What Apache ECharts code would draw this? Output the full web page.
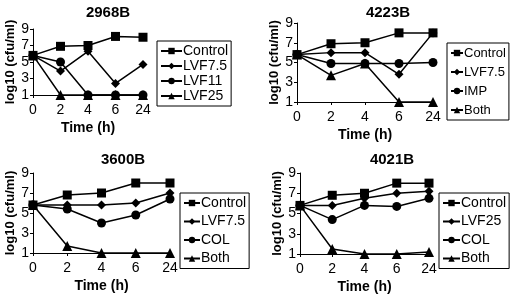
<!DOCTYPE html>
<html>
<head>
<meta charset="utf-8">
<script src="https://cdn.jsdelivr.net/npm/echarts@6/dist/echarts.min.js"></script>
<style>
  html, body { margin: 0; padding: 0; background: #fff; }
  #chart { width: 520px; height: 296px; }
</style>
</head>
<body>
<div id="chart"></div>
<script>
// time points (h)
const times = ['0', '2', '4', '6', '24'];
const yMin = 1, yMax = 9, yStep = 2;

// 2968B
const s2968Names = ['Control', 'LVF7.5', 'LVF11', 'LVF25'];
const s2968Control = [5.8, 6.9, 7.0, 8.1, 8.0];
const s2968Lvf75 = [5.8, 3.9, 6.3, 2.4, 4.7];
const s2968Lvf11 = [5.8, 5.0, 1, 1, 1];
const s2968Lvf25 = [5.8, 1, 1, 1, 1];

// 4223B
const s4223Names = ['Control', 'LVF7.5', 'IMP', 'Both'];
const s4223Control = [5.8, 6.9, 7.0, 8.0, 8.0];
const s4223Lvf75 = [5.8, 6.0, 6.0, 3.8, 8.0];
const s4223Imp = [5.8, 4.9, 4.9, 4.9, 5.0];
const s4223Both = [5.8, 3.7, 4.9, 1, 1];

// 3600B
const s3600Names = ['Control', 'LVF7.5', 'COL', 'Both'];
const s3600Control = [5.8, 6.8, 7.0, 8.0, 8.0];
const s3600Lvf75 = [5.8, 5.8, 5.8, 6.0, 7.0];
const s3600Col = [5.8, 5.4, 4.0, 4.8, 6.4];
const s3600Both = [5.8, 1.7, 1, 1, 1];

// 4021B
const s4021Names = ['Control', 'LVF25', 'COL', 'Both'];
const s4021Control = [5.8, 6.8, 7.0, 8.0, 8.0];
const s4021Lvf25 = [5.8, 5.8, 6.5, 7.0, 7.2];
const s4021Col = [5.8, 4.4, 5.8, 5.7, 6.5];
const s4021Both = [5.8, 1.5, 1, 1, 1.2];

const symbols = ['rect', 'diamond', 'circle', 'triangle'];
const symSizes = [9, 9, 9, 10];

// layout of the four panels
const panels = [
  {title: '2968B', names: s2968Names, data: [s2968Control, s2968Lvf75, s2968Lvf11, s2968Lvf25],
   grid: {left: 33, top: 29, width: 110, height: 66}, tx: 103, ty: 0,
   leg: {left: 157, top: 41, gap: 1, iw: 21, fs: 14}},
  {title: '4223B', names: s4223Names, data: [s4223Control, s4223Lvf75, s4223Imp, s4223Both],
   grid: {left: 297, top: 23, width: 136, height: 79}, tx: 383, ty: 0,
   leg: {left: 447, top: 43, gap: 5, iw: 12, fs: 13}},
  {title: '3600B', names: s3600Names, data: [s3600Control, s3600Lvf75, s3600Col, s3600Both],
   grid: {left: 33, top: 173, width: 137, height: 80}, tx: 118, ty: 147,
   leg: {left: 180, top: 193, gap: 4.5, iw: 16, fs: 14}},
  {title: '4021B', names: s4021Names, data: [s4021Control, s4021Lvf25, s4021Col, s4021Both],
   grid: {left: 300, top: 173, width: 129, height: 81}, tx: 387, ty: 147,
   leg: {left: 439, top: 193, gap: 4.5, iw: 17, fs: 14}}
];

const font = 'Liberation Sans, Arial, sans-serif';
const option = {
  backgroundColor: '#fff',
  animation: false,
  title: [], grid: [], xAxis: [], yAxis: [], legend: [], series: []
};

panels.forEach((p, k) => {
  option.title.push({
    text: p.title, left: p.tx, top: p.ty, textAlign: 'center',
    textStyle: {fontFamily: font, fontSize: 15, fontWeight: 'bold', color: '#000'}
  });
  option.grid.push(p.grid);
  option.xAxis.push({
    type: 'category', gridIndex: k, data: times, boundaryGap: false,
    name: 'Time (h)', nameLocation: 'middle', nameGap: 26,
    nameTextStyle: {fontFamily: font, fontSize: 14, fontWeight: 'bold', color: '#000'},
    axisLine: {lineStyle: {color: '#000', width: 1}},
    axisTick: {show: true, length: 3, lineStyle: {color: '#000'}},
    axisLabel: {fontFamily: font, fontSize: 14, color: '#000', margin: 8},
    splitLine: {show: false}
  });
  option.yAxis.push({
    type: 'value', gridIndex: k, min: yMin, max: yMax, interval: yStep,
    name: 'log10 (cfu/ml)', nameLocation: 'middle', nameGap: 15,
    nameTextStyle: {fontFamily: font, fontSize: 13, fontWeight: 'bold', color: '#000'},
    axisLine: {show: true, lineStyle: {color: '#000', width: 1}},
    axisTick: {show: true, length: 3, lineStyle: {color: '#000'}},
    axisLabel: {fontFamily: font, fontSize: 14, color: '#000', margin: 4},
    splitLine: {show: false}
  });
  const legendNames = [];
  p.names.forEach((n, i) => {
    const full = p.title + ':' + n;
    legendNames.push(full);
    option.series.push({
      name: full, type: 'line', xAxisIndex: k, yAxisIndex: k,
      data: p.data[i],
      symbol: symbols[i], symbolSize: symSizes[i],
      color: '#000',
      lineStyle: {color: '#000', width: 1.5},
      itemStyle: {color: '#000'}
    });
  });
  option.legend.push({
    data: legendNames, orient: 'vertical', left: p.leg.left, top: p.leg.top,
    itemGap: p.leg.gap, itemWidth: p.leg.iw, itemHeight: 8,
    padding: [3, 3], borderColor: '#000', borderWidth: 1,
    formatter: name => name.split(':')[1],
    selectedMode: false,
    textStyle: {fontFamily: font, fontSize: p.leg.fs, color: '#000', lineHeight: 14, padding: [0, 0, 0, -4]}
  });
});

const chart = echarts.init(document.getElementById('chart'));
chart.setOption(option);
</script>
</body>
</html>
